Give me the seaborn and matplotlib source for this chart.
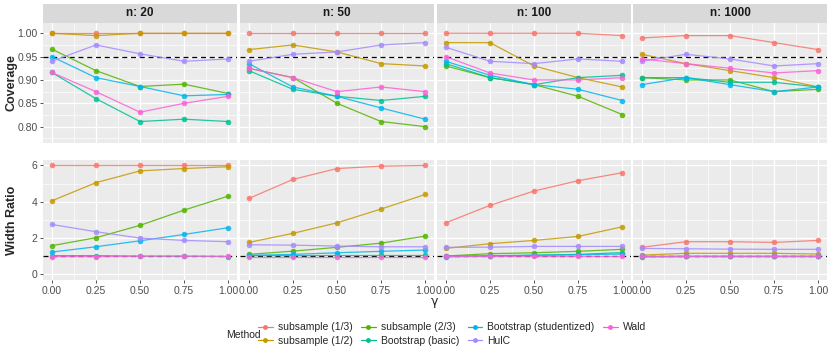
import seaborn as sns
import matplotlib.pyplot as plt
import matplotlib.ticker as mticker
from matplotlib.lines import Line2D
from matplotlib.patches import Rectangle
import pandas as pd

# gamma values on the x axis
gamma = [0.0, 0.25, 0.5, 0.75, 1.0]
sizes = [20, 50, 100, 1000]
methods = ["subsample (1/3)", "subsample (1/2)", "subsample (2/3)",
           "Bootstrap (basic)", "Bootstrap (studentized)", "HulC", "Wald"]
colors = ["#F8766D", "#C49A00", "#53B400", "#00C094", "#00B6EB", "#A58AFF", "#FB61D7"]

# coverage, one dict per sample size (method -> values over gamma)
cov_20 = {
    "subsample (1/3)": [1.00, 1.00, 1.00, 1.00, 1.00],
    "subsample (1/2)": [1.00, 0.995, 1.00, 1.00, 1.00],
    "subsample (2/3)": [0.966, 0.92, 0.886, 0.891, 0.871],
    "Bootstrap (basic)": [0.916, 0.86, 0.811, 0.816, 0.811],
    "Bootstrap (studentized)": [0.95, 0.905, 0.886, 0.866, 0.869],
    "HulC": [0.94, 0.975, 0.956, 0.94, 0.945],
    "Wald": [0.916, 0.875, 0.831, 0.85, 0.865],
}
cov_50 = {
    "subsample (1/3)": [1.00, 1.00, 1.00, 1.00, 1.00],
    "subsample (1/2)": [0.965, 0.975, 0.96, 0.935, 0.93],
    "subsample (2/3)": [0.925, 0.905, 0.85, 0.811, 0.80],
    "Bootstrap (basic)": [0.92, 0.88, 0.865, 0.856, 0.865],
    "Bootstrap (studentized)": [0.935, 0.885, 0.865, 0.84, 0.816],
    "HulC": [0.94, 0.955, 0.96, 0.975, 0.98],
    "Wald": [0.925, 0.905, 0.875, 0.885, 0.875],
}
cov_100 = {
    "subsample (1/3)": [1.00, 1.00, 1.00, 1.00, 0.995],
    "subsample (1/2)": [0.98, 0.98, 0.93, 0.905, 0.885],
    "subsample (2/3)": [0.93, 0.905, 0.89, 0.865, 0.826],
    "Bootstrap (basic)": [0.935, 0.905, 0.89, 0.905, 0.91],
    "Bootstrap (studentized)": [0.94, 0.91, 0.89, 0.88, 0.856],
    "HulC": [0.97, 0.94, 0.935, 0.945, 0.94],
    "Wald": [0.95, 0.915, 0.90, 0.90, 0.905],
}
cov_1000 = {
    "subsample (1/3)": [0.99, 0.995, 0.995, 0.98, 0.965],
    "subsample (1/2)": [0.955, 0.935, 0.92, 0.905, 0.885],
    "subsample (2/3)": [0.905, 0.90, 0.90, 0.875, 0.88],
    "Bootstrap (basic)": [0.905, 0.905, 0.895, 0.895, 0.885],
    "Bootstrap (studentized)": [0.89, 0.905, 0.89, 0.875, 0.885],
    "HulC": [0.94, 0.955, 0.945, 0.93, 0.935],
    "Wald": [0.945, 0.935, 0.925, 0.915, 0.92],
}

# width ratio, one dict per sample size
wid_20 = {
    "subsample (1/3)": [6.0, 6.0, 6.0, 6.0, 6.0],
    "subsample (1/2)": [4.05, 5.05, 5.7, 5.83, 5.93],
    "subsample (2/3)": [1.58, 2.02, 2.7, 3.54, 4.31],
    "Bootstrap (basic)": [1.03, 1.03, 1.0, 1.0, 0.98],
    "Bootstrap (studentized)": [1.23, 1.52, 1.85, 2.2, 2.57],
    "HulC": [2.75, 2.35, 2.0, 1.87, 1.8],
    "Wald": [0.98, 0.98, 1.0, 1.0, 0.99],
}
wid_50 = {
    "subsample (1/3)": [4.18, 5.23, 5.83, 5.96, 6.0],
    "subsample (1/2)": [1.76, 2.26, 2.84, 3.6, 4.4],
    "subsample (2/3)": [1.1, 1.28, 1.49, 1.72, 2.11],
    "Bootstrap (basic)": [1.03, 1.03, 1.04, 1.04, 1.04],
    "Bootstrap (studentized)": [1.05, 1.1, 1.19, 1.27, 1.34],
    "HulC": [1.63, 1.61, 1.56, 1.52, 1.52],
    "Wald": [0.98, 0.98, 0.98, 0.98, 0.98],
}
wid_100 = {
    "subsample (1/3)": [2.84, 3.8, 4.59, 5.16, 5.6],
    "subsample (1/2)": [1.43, 1.69, 1.87, 2.09, 2.62],
    "subsample (2/3)": [1.01, 1.14, 1.19, 1.27, 1.38],
    "Bootstrap (basic)": [1.0, 1.03, 1.06, 1.1, 1.2],
    "Bootstrap (studentized)": [0.97, 1.0, 1.05, 1.08, 1.12],
    "HulC": [1.49, 1.5, 1.54, 1.54, 1.54],
    "Wald": [1.0, 1.0, 1.0, 1.0, 1.0],
}
wid_1000 = {
    "subsample (1/3)": [1.49, 1.8, 1.8, 1.76, 1.87],
    "subsample (1/2)": [1.06, 1.16, 1.16, 1.16, 1.12],
    "subsample (2/3)": [0.97, 0.99, 0.99, 0.99, 0.99],
    "Bootstrap (basic)": [1.0, 1.0, 1.0, 1.0, 1.0],
    "Bootstrap (studentized)": [0.99, 0.99, 0.99, 0.99, 0.99],
    "HulC": [1.43, 1.41, 1.39, 1.38, 1.38],
    "Wald": [1.02, 1.02, 1.02, 1.02, 1.02],
}

coverage = [cov_20, cov_50, cov_100, cov_1000]
width = [wid_20, wid_50, wid_100, wid_1000]


def to_long(d):
    rows = []
    for m in methods:
        for g, v in zip(gamma, d[m]):
            rows.append({"gamma": g, "value": v, "Method": m})
    return pd.DataFrame(rows)


sns.set_theme(style="darkgrid", rc={
    "axes.facecolor": "#EBEBEB",
    "grid.color": "white",
    "axes.edgecolor": "none",
})
plt.rcParams["font.family"] = ["Liberation Sans", "DejaVu Sans"]

W, H = 830, 359
fig = plt.figure(figsize=(W / 100, H / 100), dpi=100)

lefts = [43, 240, 437, 633]
pw = 194
rows_y = [(23, 143), (160, 280)]
strip_h = 19

for r, data in enumerate([coverage, width]):
    top, bot = rows_y[r]
    for c in range(4):
        ax = fig.add_axes([lefts[c] / W, 1 - bot / H, pw / W, (bot - top) / H])
        df = to_long(data[c])
        sns.lineplot(data=df, x="gamma", y="value", hue="Method", hue_order=methods,
                     palette=colors, marker="o", markersize=4, markeredgewidth=0,
                     linewidth=0.9, alpha=0.85, legend=False, ax=ax)
        ax.set_xlim(-0.05, 1.05)
        ax.xaxis.set_major_locator(mticker.FixedLocator(gamma))
        ax.xaxis.set_minor_locator(mticker.FixedLocator([0.125, 0.375, 0.625, 0.875]))
        if r == 0:
            ax.axhline(0.95, color="black", ls=(0, (4, 3)), lw=0.9, zorder=1)
            ax.set_ylim(0.765, 1.022)
            ax.yaxis.set_major_locator(mticker.FixedLocator([0.80, 0.85, 0.90, 0.95, 1.00]))
            ax.yaxis.set_minor_locator(mticker.FixedLocator([0.775, 0.825, 0.875, 0.925, 0.975]))
            ax.yaxis.set_major_formatter(mticker.FormatStrFormatter("%.2f"))
        else:
            ax.axhline(1.0, color="black", ls=(0, (4, 3)), lw=0.9, zorder=1)
            ax.set_ylim(-0.31, 6.3)
            ax.yaxis.set_major_locator(mticker.FixedLocator([0, 2, 4, 6]))
            ax.yaxis.set_minor_locator(mticker.FixedLocator([1, 3, 5]))
        ax.grid(which="major", color="white", lw=0.9)
        ax.grid(which="minor", color="white", lw=0.45)
        ax.set_xlabel("")
        ax.set_ylabel("")
        ax.tick_params(which="minor", length=0)
        ax.tick_params(which="major", length=2.5, width=0.6, color="#333333",
                       labelsize=7.5, labelcolor="#4D4D4D", pad=1.5)
        if c > 0:
            ax.tick_params(axis="y", length=0, labelleft=False)
        else:
            ax.tick_params(axis="y", left=True)
        if r == 0:
            ax.tick_params(axis="x", length=0, labelbottom=False)
            ax.add_patch(Rectangle((0, 1), 1, strip_h / (bot - top), transform=ax.transAxes,
                                   clip_on=False, facecolor="#D9D9D9", edgecolor="none"))
            ax.text(0.5, 1 + strip_h / 2 / (bot - top), f"n: {sizes[c]}", transform=ax.transAxes,
                    ha="center", va="center", fontsize=8.5, fontweight="bold", color="#1A1A1A")
        else:
            ax.tick_params(axis="x", bottom=True)
            ax.xaxis.set_major_formatter(mticker.FormatStrFormatter("%.2f"))

fig.text(12 / W, 1 - 83 / H, "Coverage", rotation=90, ha="center", va="center",
         fontsize=9, fontweight="bold")
fig.text(12 / W, 1 - 220 / H, "Width Ratio", rotation=90, ha="center", va="center",
         fontsize=9, fontweight="bold")
fig.text(435 / W, 1 - 301 / H, "γ", ha="center", va="center", fontsize=9,
         family=["DejaVu Sans"])

handles = [Line2D([0], [0], color=col, marker="o", markersize=3.5, markeredgewidth=0, lw=0.9)
           for col in colors]
fig.text(243 / W, 1 - 335 / H, "Method", ha="center", va="center", fontsize=7.5)
fig.legend(handles, methods, ncol=4, loc="center", bbox_to_anchor=(452 / W, 1 - 334 / H),
           frameon=False, fontsize=7.5, handlelength=1.4, handletextpad=0.5,
           columnspacing=0.8, labelspacing=0.3)

fig.savefig("out.png", dpi=100)
